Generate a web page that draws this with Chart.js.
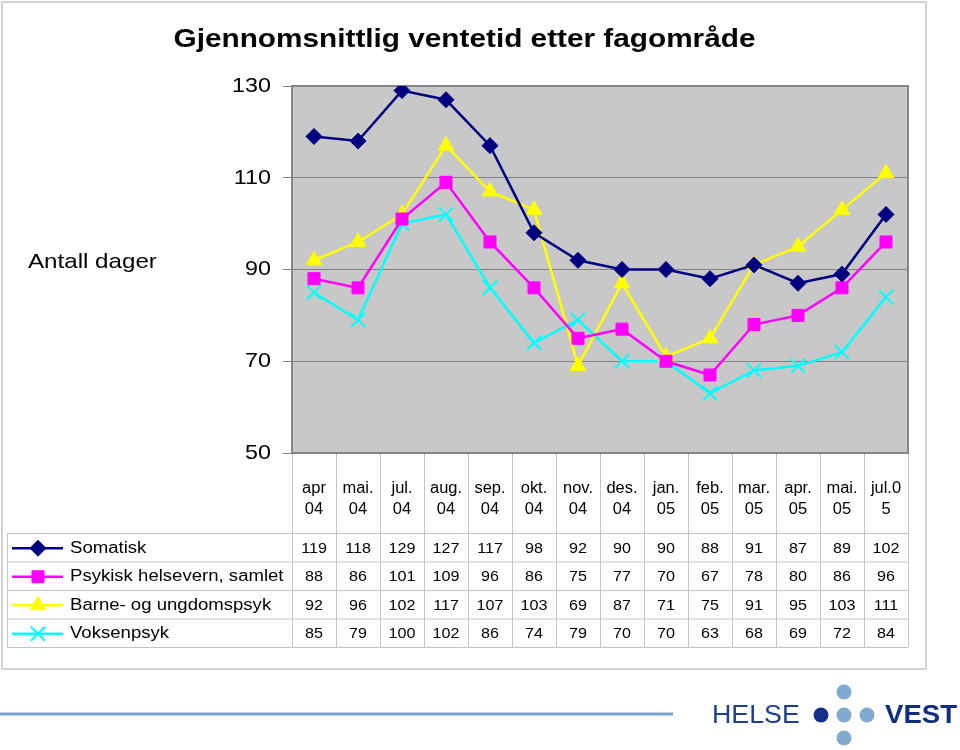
<!DOCTYPE html>
<html><head><meta charset="utf-8">
<script src="https://cdn.jsdelivr.net/npm/chart.js@4.4.1/dist/chart.umd.min.js"></script>
<style>html,body{margin:0;padding:0;background:#fff}canvas{display:block}</style>
</head><body>
<canvas id="c" width="960" height="750"></canvas>
<script>
// ---- data ----
const chartTitle = 'Gjennomsnittlig ventetid etter fagområde';
const yAxisLabel = 'Antall dager';
const categories = [['apr','04'],['mai.','04'],['jul.','04'],['aug.','04'],['sep.','04'],['okt.','04'],['nov.','04'],['des.','04'],['jan.','05'],['feb.','05'],['mar.','05'],['apr.','05'],['mai.','05'],['jul.0','5']];
const seriesNames = ['Somatisk','Psykisk helsevern, samlet','Barne- og ungdomspsyk','Voksenpsyk'];
const somatisk = [119,118,129,127,117,98,92,90,90,88,91,87,89,102];
const psykisk  = [88,86,101,109,96,86,75,77,70,67,78,80,86,96];
const barne    = [92,96,102,117,107,103,69,87,71,75,91,95,103,111];
const voksen   = [85,79,100,102,86,74,79,70,70,63,68,69,72,84];
const yTicks = [50,70,90,110,130];

const FONT = 'Liberation Sans, Arial, Helvetica, sans-serif';
const canvas = document.getElementById('c');
const ctx = canvas.getContext('2d');
const rawFill = ctx.fillText.bind(ctx);
function sxFor(font){
  const m = /(\d+(?:\.\d+)?)px/.exec(font); const s = m ? parseFloat(m[1]) : 12;
  if (/bold/.test(font) && s >= 22) return 1.19;
  if (s >= 20) return 1.11;
  return 1.03;
}
ctx.fillText = function(t, x, y, mw){
  const sx = ctx._sx || sxFor(ctx.font);
  ctx.save(); ctx.translate(x, y); ctx.scale(sx, 1);
  if (mw !== undefined && mw !== null) rawFill(t, 0, 0, mw / sx); else rawFill(t, 0, 0);
  ctx.restore();
};

const styles = [
  {color:'#000080', pointStyle:'rectRot', radius:8, bw:1},
  {color:'#FF00FF', pointStyle:'rect', radius:8.5, bw:1},
  {color:'#FFFF00', pointStyle:'triangle', radius:9, bw:1},
  {color:'#00FFFF', pointStyle:'crossRot', radius:10, bw:2}
];
const seriesData = [somatisk, psykisk, barne, voksen];

function mkDs(i){
  const s = styles[i];
  return {label: seriesNames[i], data: seriesData[i], borderColor: s.color, backgroundColor: s.color,
    pointStyle: s.pointStyle, pointRadius: s.radius, pointBorderWidth: s.bw, pointBorderColor: s.color,
    pointBackgroundColor: s.color, borderWidth: 2.5, tension: 0, fill: false};
}

function txt(c, s, x, y, font, color, align, sx){
  c.save(); c.font = font; c.fillStyle = color; c.textAlign = align; c.textBaseline = 'middle';
  c._sx = sx; c.fillText(s, x, y); c._sx = null; c.restore();
}
function marker(c, st, x, y){
  c.save(); c.fillStyle = st.color; c.strokeStyle = st.color; c.lineWidth = st.bw;
  if (Chart.helpers && Chart.helpers.drawPoint) {
    Chart.helpers.drawPoint(c, {pointStyle: st.pointStyle, radius: st.radius, borderWidth: st.bw, rotation: 0}, x, y);
  }
  c.restore();
}

const decor = {
  id: 'decor',
  beforeDraw(chart){
    const c = chart.ctx, a = chart.chartArea;
    c.save();
    c.fillStyle = '#C8C8C8';
    c.fillRect(a.left, a.top, a.right - a.left, a.bottom - a.top);
    c.restore();
  },
  beforeDatasetsDraw(chart){
    const c = chart.ctx, a = chart.chartArea;
    c.save(); c.strokeStyle = '#858585'; c.lineWidth = 2;
    c.strokeRect(a.left, a.top, a.right - a.left, a.bottom - a.top);
    c.restore();
  },
  afterDraw(chart){
    const c = chart.ctx, a = chart.chartArea, xs = chart.scales.x;
    const n = categories.length;
    const half = (xs.getPixelForValue(1) - xs.getPixelForValue(0)) / 2;
    const rows = [533, 561.5, 590, 618.5, 647];
    const tblLeft = 7;
    c.save();
    // outer frame
    c.strokeStyle = '#D2D2D2'; c.lineWidth = 2;
    c.strokeRect(2, 2, 924, 667);
    // table grid
    c.strokeStyle = '#C4C4C4'; c.lineWidth = 1;
    c.beginPath();
    for (let i = 0; i <= n; i++) {
      const x = Math.round(xs.getPixelForValue(0) - half + i * 2 * half) + 0.5;
      c.moveTo(x, a.bottom + 1); c.lineTo(x, rows[4]);
    }
    rows.forEach(y => { c.moveTo(tblLeft, y + 0.5); c.lineTo(a.right, y + 0.5); });
    c.moveTo(tblLeft + 0.5, rows[0]); c.lineTo(tblLeft + 0.5, rows[4]);
    c.stroke();
    // rows
    for (let r = 0; r < 4; r++) {
      const cy = (rows[r] + rows[r + 1]) / 2 + 1;
      const st = styles[r];
      c.save(); c.strokeStyle = st.color; c.lineWidth = 2.5;
      c.beginPath(); c.moveTo(12, cy); c.lineTo(63, cy); c.stroke(); c.restore();
      marker(c, st, 38, cy);
      txt(c, seriesNames[r], 70, cy, '16px ' + FONT, '#000', 'left', 1.16);
      seriesData[r].forEach((v, i) => {
        txt(c, String(v), xs.getPixelForValue(i), cy, '15.5px ' + FONT, '#000', 'center', 1.04);
      });
    }
    // y axis title
    txt(c, yAxisLabel, 28, 262, '21px ' + FONT, '#000', 'left', 1.15);
    // footer line
    c.strokeStyle = '#7AA3CA'; c.lineWidth = 3;
    c.beginPath(); c.moveTo(0, 714); c.lineTo(673, 714); c.stroke();
    // logo
    txt(c, 'HELSE', 712, 716, '26px ' + FONT, '#1F3E8C', 'left', 1.03);
    txt(c, 'VEST', 885, 716, 'bold 26px ' + FONT, '#10307E', 'left', 1.06);
    c.fillStyle = '#14318A';
    c.beginPath(); c.arc(821, 715, 7.5, 0, Math.PI * 2); c.fill();
    c.fillStyle = '#80AAD0';
    [[844, 692], [844, 715], [867, 715], [844, 738]].forEach(p => { c.beginPath(); c.arc(p[0], p[1], 7.5, 0, Math.PI * 2); c.fill(); });
    c.restore();
  }
};

new Chart(ctx, {
  type: 'line',
  data: { labels: categories, datasets: [0,1,2,3].map(mkDs) },
  options: {
    responsive: false, animation: false, devicePixelRatio: 1,
    layout: { padding: { left: 21, right: 52, top: 0, bottom: 220 } },
    plugins: {
      legend: { display: false }, tooltip: { enabled: false },
      title: { display: true, text: chartTitle, color: '#000',
        font: { family: FONT, size: 25, weight: 'bold' }, padding: { top: 25, bottom: 31 } }
    },
    scales: {
      x: { type: 'category', offset: true,
        grid: { display: false }, border: { display: false },
        ticks: { color: '#000', font: { family: FONT, size: 16, lineHeight: 1.3 }, padding: 17, maxRotation: 0, autoSkip: false },
        afterFit(s){ s.height = 77; } },
      y: { min: yTicks[0], max: yTicks[yTicks.length - 1],
        afterBuildTicks(s){ s.ticks = yTicks.map(v => ({ value: v })); },
        grid: { color: '#808080', tickLength: 9, drawTicks: true, lineWidth: 1 },
        border: { display: false },
        ticks: { color: '#000', font: { family: FONT, size: 21 }, padding: 12 },
        afterFit(s){ s.width = 271; } }
    }
  },
  plugins: [decor]
});
</script>
</body></html>
